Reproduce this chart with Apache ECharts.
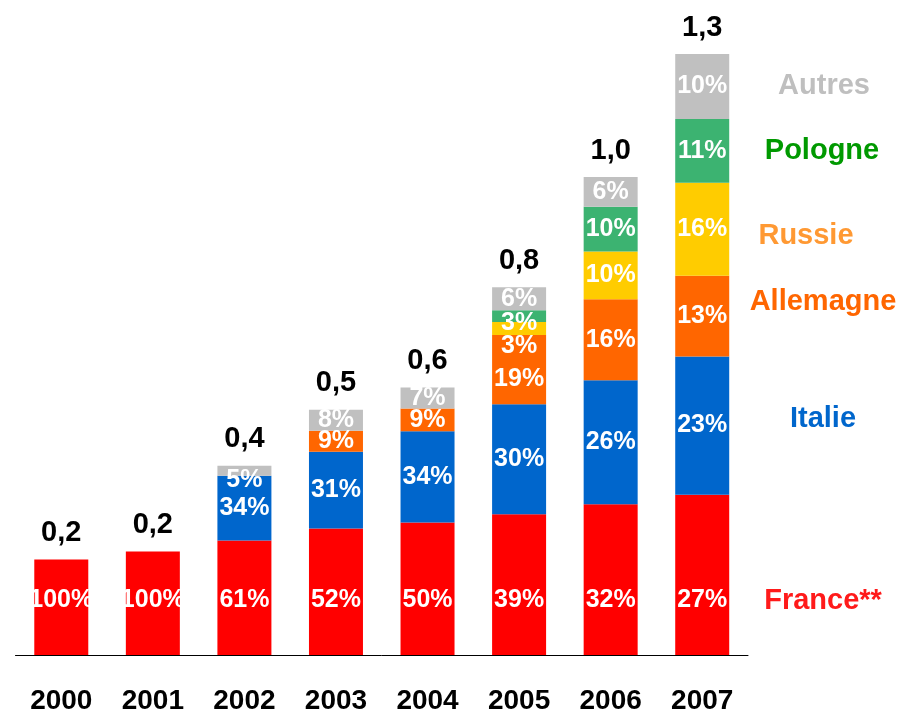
<!DOCTYPE html>
<html>
<head>
<meta charset="utf-8">
<script src="https://cdn.jsdelivr.net/npm/echarts@6/dist/echarts.min.js"></script>
<style>
html,body{margin:0;padding:0;background:#fff;}
#chart{width:897px;height:715px;}
</style>
</head>
<body>
<div id="chart"></div>
<script>
// ---- Data ----
const years = ['2000','2001','2002','2003','2004','2005','2006','2007'];
const france    = [0.200, 0.217, 0.240, 0.265, 0.278, 0.295, 0.316, 0.336];
const italie    = [null,  null,  0.136, 0.161, 0.191, 0.231, 0.260, 0.290];
const allemagne = [null,  null,  null,  0.044, 0.048, 0.145, 0.170, 0.169];
const russie    = [null,  null,  null,  null,  null,  0.027, 0.100, 0.195];
const pologne   = [null,  null,  null,  null,  null,  0.025, 0.094, 0.134];
const autres    = [null,  null,  0.021, 0.044, 0.044, 0.048, 0.062, 0.136];

const francePct    = ['100%','100%','61%','52%','50%','39%','32%','27%'];
const italiePct    = [null, null, '34%','31%','34%','30%','26%','23%'];
const allemagnePct = [null, null, null, '9%','9%','19%','16%','13%'];
const russiePct    = [null, null, null, null, null, '3%','10%','16%'];
const polognePct   = [null, null, null, null, null, '3%','10%','11%'];
const autresPct    = [null, null, '5%','8%','7%','6%','6%','10%'];

const totalLabels = ['0,2','0,2','0,4','0,5','0,6','0,8','1,0','1,3'];

const seriesNames = ['France**','Italie','Allemagne','Russie','Pologne','Autres'];

// ---- Styling ----
const FONT = "Arial, 'Liberation Sans', sans-serif";
const colors = {
  'France**': '#ff0000',
  'Italie': '#0066cc',
  'Allemagne': '#ff6600',
  'Russie': '#ffcc00',
  'Pologne': '#3cb371',
  'Autres': '#c0c0c0'
};
const legendColors = {
  'France**': '#ff1a1a',
  'Italie': '#0066cc',
  'Allemagne': '#ff6600',
  'Russie': '#ff9933',
  'Pologne': '#009900',
  'Autres': '#bfbfbf'
};
// label vertical nudges (style only), keyed by series then category index
const labelShift = {
  'Autres': {2: 9},
  'Allemagne': {5: 10},
  'Russie': {5: 18},
  'Pologne': {5: 7}
};

const values = [france, italie, allemagne, russie, pologne, autres];
const pcts = [francePct, italiePct, allemagnePct, russiePct, polognePct, autresPct];

const chart = echarts.init(document.getElementById('chart'), null, {renderer: 'canvas'});

const series = seriesNames.map((name, si) => {
  const shifts = labelShift[name] || {};
  return {
    name: name,
    type: 'bar',
    stack: 'total',
    barWidth: 54,
    itemStyle: {color: colors[name]},
    label: {
      show: true,
      position: name === 'France**' ? 'insideBottom' : 'inside',
      distance: name === 'France**' ? 42 : 5,
      color: '#ffffff',
      fontFamily: FONT,
      fontWeight: 'bold',
      fontSize: 25,
      formatter: (p) => pcts[si][p.dataIndex] || ''
    },
    data: values[si].map((v, i) => {
      if (shifts[i] !== undefined) {
        return {value: v, label: {offset: [0, shifts[i]]}};
      }
      return v;
    })
  };
});

// totals on top of each stack
series.push({
  name: 'Total',
  type: 'bar',
  stack: 'total',
  barWidth: 54,
  itemStyle: {color: 'rgba(0,0,0,0)'},
  label: {
    show: true,
    position: 'top',
    distance: 12,
    color: '#000000',
    fontFamily: FONT,
    fontWeight: 'bold',
    fontSize: 29,
    formatter: (p) => totalLabels[p.dataIndex]
  },
  data: years.map(() => 0)
});

const legendPos = [
  {name: 'Autres',    x: 824, y: 86},
  {name: 'Pologne',   x: 822, y: 151},
  {name: 'Russie',    x: 806, y: 236},
  {name: 'Allemagne', x: 823, y: 302},
  {name: 'Italie',    x: 823, y: 419},
  {name: 'France**',  x: 823, y: 601}
];

const option = {
  backgroundColor: '#ffffff',
  animation: false,
  grid: {left: 15.5, right: 149, top: 35, bottom: 60, containLabel: false},
  xAxis: {
    type: 'category',
    data: years,
    axisLine: {show: true, lineStyle: {color: '#000000', width: 1}},
    axisTick: {show: false},
    axisLabel: {
      color: '#000000',
      fontFamily: FONT,
      fontWeight: 'bold',
      fontSize: 28,
      margin: 32
    }
  },
  yAxis: {
    type: 'value',
    min: 0,
    max: 1.3,
    show: false,
    splitLine: {show: false}
  },
  series: series,
  graphic: legendPos.map(l => ({
    type: 'text',
    x: l.x,
    y: l.y,
    style: {
      text: l.name,
      fill: legendColors[l.name],
      font: 'bold 29px ' + FONT,
      textAlign: 'center',
      textVerticalAlign: 'middle'
    }
  }))
};

chart.setOption(option);
</script>
</body>
</html>
